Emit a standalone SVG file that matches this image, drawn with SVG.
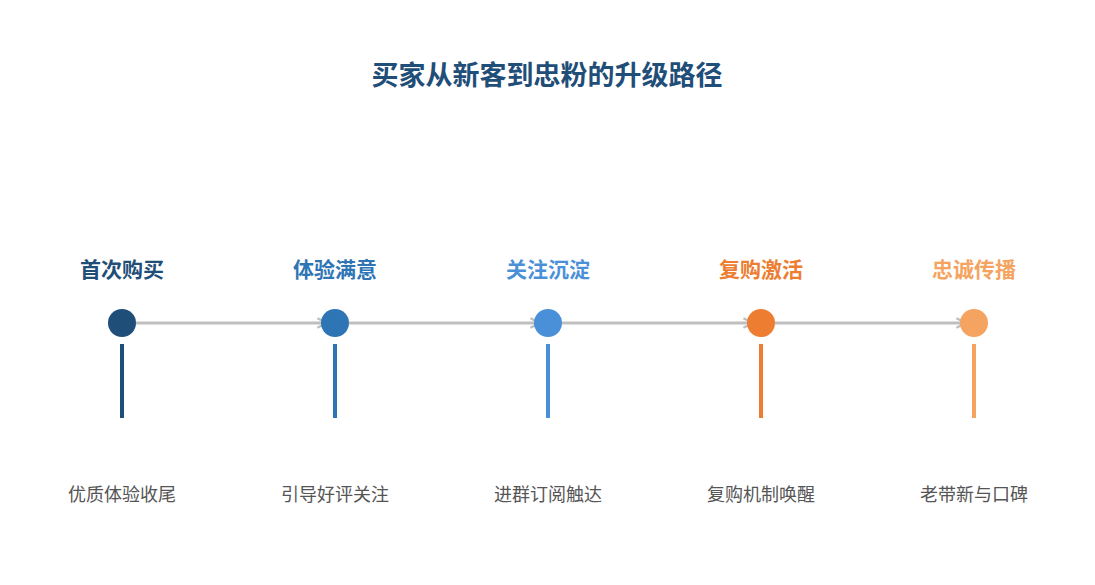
<svg xmlns="http://www.w3.org/2000/svg" width="1095" height="585" viewBox="0 0 1095 585">
<style>
text{font-family:"Liberation Sans","Noto Sans CJK SC",sans-serif;text-anchor:middle}
.t{font-size:27px;font-weight:bold;fill:#1f4e79}
.h{font-size:21px;font-weight:bold}
.d{font-size:18px;fill:#555}
.c{stroke:#bfbfbf;stroke-width:3;fill:none}
</style>
<defs><marker id="a" viewBox="0 0 10 10" refX="9" refY="5" markerWidth="4" markerHeight="4" orient="auto"><path d="M1,1 L9,5 L1,9" fill="none" stroke="#bfbfbf" stroke-width="2"/></marker></defs>
<rect width="1095" height="585" fill="#fff"/>
<text class="t" x="547" y="85">买家从新客到忠粉的升级路径</text>
<g id="connectors">
<line class="c" x1="136" y1="323" x2="327" y2="323" marker-end="url(#a)"/>
<line class="c" x1="349" y1="323" x2="540" y2="323" marker-end="url(#a)"/>
<line class="c" x1="562" y1="323" x2="753" y2="323" marker-end="url(#a)"/>
<line class="c" x1="775" y1="323" x2="966" y2="323" marker-end="url(#a)"/>
</g>
<g id="n1"><text class="h" x="122" y="277" fill="#1f4e79">首次购买</text><circle cx="122" cy="323" r="14" fill="#1f4e79"/><rect x="120" y="344" width="4" height="74" fill="#1f4e79"/><text class="d" x="122" y="501">优质体验收尾</text></g>
<g id="n2"><text class="h" x="335" y="277" fill="#2e75b6">体验满意</text><circle cx="335" cy="323" r="14" fill="#2e75b6"/><rect x="333" y="344" width="4" height="74" fill="#2e75b6"/><text class="d" x="335" y="501">引导好评关注</text></g>
<g id="n3"><text class="h" x="548" y="277" fill="#4a90d9">关注沉淀</text><circle cx="548" cy="323" r="14" fill="#4a90d9"/><rect x="546" y="344" width="4" height="74" fill="#4a90d9"/><text class="d" x="548" y="501">进群订阅触达</text></g>
<g id="n4"><text class="h" x="761" y="277" fill="#ed7d31">复购激活</text><circle cx="761" cy="323" r="14" fill="#ed7d31"/><rect x="759" y="344" width="4" height="74" fill="#ed7d31"/><text class="d" x="761" y="501">复购机制唤醒</text></g>
<g id="n5"><text class="h" x="974" y="277" fill="#f4a460">忠诚传播</text><circle cx="974" cy="323" r="14" fill="#f4a460"/><rect x="972" y="344" width="4" height="74" fill="#f4a460"/><text class="d" x="974" y="501">老带新与口碑</text></g>
</svg>
